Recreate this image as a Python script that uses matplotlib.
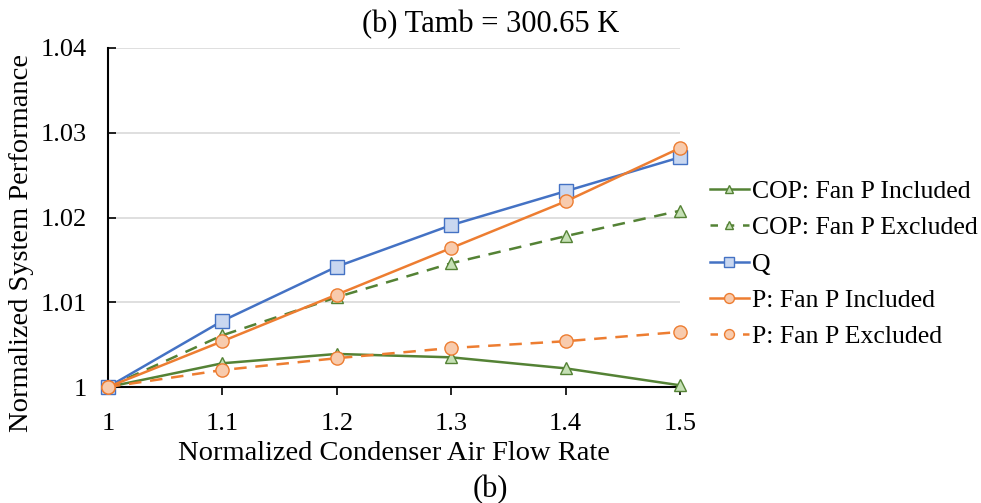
import matplotlib
matplotlib.use("Agg")
import matplotlib.pyplot as plt
from matplotlib.lines import Line2D

plt.rcParams['font.family'] = ['Liberation Serif', 'DejaVu Serif']

x = [1.0, 1.1, 1.2, 1.3, 1.4, 1.5]
cop_incl = [1.0, 1.0028, 1.0039, 1.0035, 1.0022, 1.0002]
cop_excl = [1.0, 1.0061, 1.0106, 1.0146, 1.0178, 1.0208]
q = [1.0, 1.0078, 1.0142, 1.0191, 1.0231, 1.0271]
p_incl = [1.0, 1.0054, 1.0109, 1.0164, 1.0219, 1.0282]
p_excl = [1.0, 1.0020, 1.0034, 1.0046, 1.0054, 1.0065]

labels = ["COP: Fan P Included", "COP: Fan P Excluded", "Q",
          "P: Fan P Included", "P: Fan P Excluded"]
xticks = [1, 1.1, 1.2, 1.3, 1.4, 1.5]
xtick_labels = ["1", "1.1", "1.2", "1.3", "1.4", "1.5"]
yticks = [1, 1.01, 1.02, 1.03, 1.04]
ytick_labels = ["1", "1.01", "1.02", "1.03", "1.04"]

green = '#548235'; green_f = '#c5e0b4'
blue = '#4472C4'; blue_f = '#c9d7f0'
orange = '#ED7D31'; orange_f = '#f8cbad'

fig = plt.figure(figsize=(9.81, 5.03), dpi=100)
ax = fig.add_axes([108/981, 1-387/503, (680-108)/981, (387-48)/503])

dash = (0, (5, 3.5))
series = [
    (cop_incl, green, green_f, '^', '-', 8.5),
    (cop_excl, green, green_f, '^', dash, 8.5),
    (q, blue, blue_f, 's', '-', 9.5),
    (p_incl, orange, orange_f, 'o', '-', 9.5),
    (p_excl, orange, orange_f, 'o', dash, 9.5),
]
handles = []
for (vals, c, fc, m, ls, ms), lab in zip(series, labels):
    ax.plot(x, vals, color=c, linestyle=ls, linewidth=1.8, marker=m,
            markersize=ms, markerfacecolor=fc, markeredgecolor=c,
            markeredgewidth=1.0, clip_on=False, zorder=3)
    handles.append(Line2D([], [], color=c, linestyle=(0, (3, 3.5)) if ls != '-' else '-',
                          linewidth=1.8, marker=m, markersize=ms * 0.75,
                          markerfacecolor=fc, markeredgecolor=c,
                          markeredgewidth=1.0, label=lab))

ax.set_xlim(1, 1.5)
ax.set_ylim(1, 1.04)
ax.set_xticks(xticks)
ax.set_xticklabels(xtick_labels)
ax.set_yticks(yticks)
ax.set_yticklabels(ytick_labels)
ax.tick_params(axis='both', labelsize=19, width=1.2, color='black')
ax.tick_params(axis='x', direction='out', length=6, pad=13)
ax.tick_params(axis='y', direction='in', length=6, pad=15)
ax.grid(axis='y', color='#d9d9d9', linewidth=1.2)
ax.set_axisbelow(True)
for s in ['top', 'right']:
    ax.spines[s].set_visible(False)
for s in ['left', 'bottom']:
    ax.spines[s].set_linewidth(1.5)
    ax.spines[s].set_color('black')

ax.set_xlabel("Normalized Condenser Air Flow Rate", fontsize=20.5, va='center')
ax.xaxis.set_label_coords(0.5, (387-453)/339)
ax.set_ylabel("Normalized System Performance", fontsize=20.5, va='center')
ax.yaxis.set_label_coords((22-108)/572, (387-243.5)/339)
fig.text(491/981, 1-25/503, "(b) Tamb = 300.65 K", fontsize=22,
         ha='center', va='center')
fig.text(490/981, 1-490/503, "(b)", fontsize=22, ha='center', va='center')

fig.legend(handles=handles, loc='upper left',
           bbox_to_anchor=(710/981, 1-180/503), frameon=False, fontsize=18.5,
           handlelength=1.5, handletextpad=0.12, labelspacing=0.52,
           borderaxespad=0, borderpad=0)

fig.savefig("out.png", dpi=100)
